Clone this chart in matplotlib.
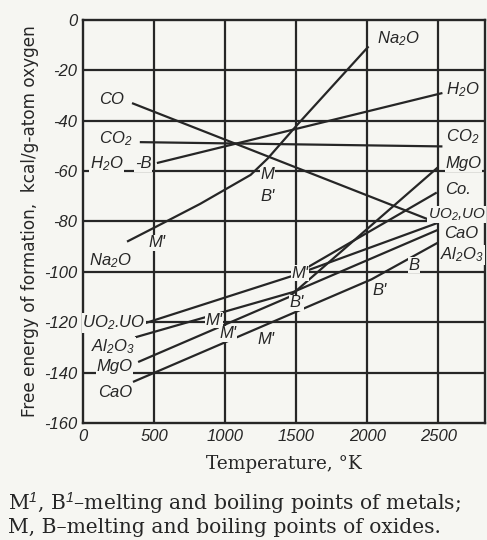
import numpy as np
import matplotlib
matplotlib.use("Agg")
import matplotlib.pyplot as plt
from matplotlib import font_manager

# a narrow italic face looks closest to the drafting lettering of the scan
try:
    font_manager.findfont('Liberation Sans Narrow', fallback_to_default=False)
    face = 'Liberation Sans Narrow'
except ValueError:
    face = 'Liberation Sans'

plt.rcParams['mathtext.fontset'] = 'custom'
plt.rcParams['mathtext.rm'] = face + ':italic'
plt.rcParams['mathtext.it'] = face + ':italic'
plt.rcParams['mathtext.bf'] = face + ':italic:bold'

# free energy of formation, kcal / g-atom oxygen
na2o_T = [310, 500, 825, 1180, 1300, 1510, 2010]
na2o_G = [-88, -82.5, -73, -61.5, -55, -41.5, -10.5]
h2o_T = [520, 2530]
h2o_G = [-56.8, -29]
co_T = [345, 2495]
co_G = [-33, -80.6]
co2_T = [400, 2530]
co2_G = [-48.5, -50.2]
uo2_T = [430, 1480, 2495]
uo2_G = [-120.5, -101.5, -80.6]
uo_T = [1480, 2490]
uo_G = [-101.5, -68.5]
al2o3_T = [367, 1480, 2495]
al2o3_G = [-126, -108, -83.4]
mgo_T = [388, 1450, 2500]
mgo_G = [-135.8, -110, -58.4]
cao_T = [352, 2030, 2495]
cao_G = [-143.7, -103, -88.5]

xticks = [0, 500, 1000, 1500, 2000, 2500]
yticks = [0, -20, -40, -60, -80, -100, -120, -140, -160]

paper = '#f6f6f2'
ink = '#262626'
lab = dict(family=[face, 'DejaVu Sans'], style='italic', fontsize=12, color=ink)
cover = dict(facecolor=paper, edgecolor='none', pad=0.4)

fig = plt.figure(figsize=(4.87, 5.40), dpi=100, facecolor=paper)
ax = fig.add_axes([0.1704, 0.2167, 0.8256, 0.7463], facecolor=paper)
ax.set_xlim(0, 2830)
ax.set_ylim(-160, 0)

for x in xticks[1:]:
    ax.axvline(x, color=ink, lw=1.6, zorder=1)
for y in yticks[1:-1]:
    ax.axhline(y, color=ink, lw=1.6, zorder=1)
for s in ax.spines.values():
    s.set_linewidth(1.7)
    s.set_color(ink)

ax.set_xticks(xticks)
ax.set_yticks(yticks)
ax.set_xticklabels([str(v) for v in xticks], **lab)
ax.set_yticklabels([str(v) for v in yticks], **lab)
ax.tick_params(length=0, pad=4)

for T, G in [(na2o_T, na2o_G), (h2o_T, h2o_G), (co_T, co_G), (co2_T, co2_G),
             (uo2_T, uo2_G), (uo_T, uo_G), (al2o3_T, al2o3_G),
             (mgo_T, mgo_G), (cao_T, cao_G)]:
    ax.plot(T, G, color=ink, lw=1.6, zorder=2, solid_capstyle='butt')

def put(x, y, s, ha='left', box=True, size=12):
    kw = dict(lab)
    kw['fontsize'] = size
    if box:
        kw['bbox'] = cover
    ax.text(x, y, s, ha=ha, va='center', zorder=3, **kw)

# left-hand labels
put(290, -31.5, 'CO', ha='right')
put(345, -47, 'CO$_2$', ha='right')
put(285, -57, 'H$_2$O', ha='right')
put(365, -57, '-B')
put(345, -95.5, 'Na$_2$O', ha='right')
put(440, -120.3, 'UO$_2$.UO', ha='right')
put(367, -129.8, 'Al$_2$O$_3$', ha='right')
put(345, -137.7, 'MgO', ha='right')
put(345, -148, 'CaO', ha='right')

# right-hand labels
put(2070, -7.5, 'Na$_2$O')
put(2555, -27.8, 'H$_2$O')
put(2555, -46.4, 'CO$_2$')
put(2555, -57, 'MgO')
put(2550, -67.5, 'Co.')
put(2425, -77.2, 'UO$_2$,UO', size=11)
put(2540, -84.6, 'CaO')
put(2515, -93.3, 'Al$_2$O$_3$')

# melting / boiling marks
put(1250, -61.5, "M")
put(1250, -70, "B'")
put(460, -88.5, "M'")
put(1470, -100.5, "M'")
put(1455, -112.3, "B'")
put(860, -119.3, "M'")
put(960, -124.5, "M'")
put(1225, -127, "M'")
put(2035, -107.5, "B'")
put(2290, -97.3, "B")

ax.set_ylabel('Free energy of formation,  kcal/g-atom oxygen',
              family='DejaVu Sans', fontsize=12.2, color=ink, labelpad=4)
ax.set_xlabel('Temperature, \u00b0K', family='DejaVu Serif', fontsize=13.3,
              color=ink, labelpad=8)

fig.text(0.016, 0.069, 'M$^{1}$, B$^{1}$\u2013melting and boiling points of metals;',
         family='DejaVu Serif', fontsize=14.6, color=ink, va='center')
fig.text(0.016, 0.024, 'M, B\u2013melting and boiling points of oxides.',
         family='DejaVu Serif', fontsize=14.6, color=ink, va='center')

fig.savefig('out.png', dpi=100, facecolor=paper)
